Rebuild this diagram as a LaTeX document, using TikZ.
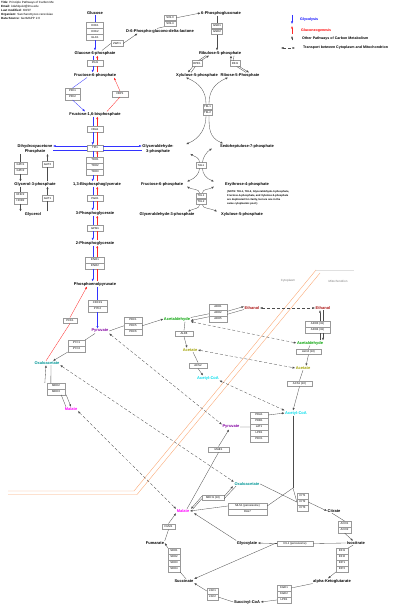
\documentclass[tikz,border=0pt]{standalone}
\usepackage{fontspec}
\setmainfont{Liberation Sans}
\usetikzlibrary{arrows.meta,positioning,calc}

\newcommand{\metfont}{\fontsize{4}{4.6}\selectfont\bfseries}
\newcommand{\genefont}{\fontsize{2.8}{3.1}\selectfont}
\newcommand{\hdrfont}{\fontsize{3}{4}\selectfont}

\definecolor{pyrcol}{RGB}{130,0,160}
\definecolor{oaacol}{RGB}{0,150,150}
\definecolor{malcol}{RGB}{255,0,255}
\definecolor{acaldcol}{RGB}{0,160,0}
\definecolor{etohcol}{RGB}{170,20,20}
\definecolor{accol}{RGB}{160,160,0}
\definecolor{accoacol}{RGB}{0,220,235}
\definecolor{membcol}{RGB}{250,170,120}
\definecolor{compcol}{RGB}{120,120,120}

\begin{document}
\begin{tikzpicture}[
    x=1pt, y=-1pt,
    >={Latex[length=2.5pt,width=2.1pt]},
    % node styles
    met/.style     = {font=\metfont, inner sep=0.5pt, align=center},
    gene/.style    = {draw=black!40, fill=white, line width=0.3pt, font=\genefont,
                      minimum width=16pt, minimum height=5.7pt, inner sep=0pt},
    hdr/.style     = {font=\hdrfont, align=left, inner sep=0pt},
    legtxt/.style  = {font=\fontsize{3.6}{4}\selectfont\bfseries, inner sep=0pt, anchor=west},
    note/.style    = {font=\fontsize{2.6}{4}\selectfont\bfseries, align=left, inner sep=0pt},
    comp/.style    = {font=\fontsize{3}{3.5}\selectfont, text=compcol, inner sep=0pt},
    % edges
    glyarr/.style  = {blue!80, line width=0.32pt},
    gngarr/.style  = {red!85, line width=0.32pt},
    oth/.style     = {black!70, line width=0.32pt},
    trans/.style   = {black!70, line width=0.32pt, densely dashed, <->},
    memb/.style    = {membcol, line width=0.4pt}
  ]
\useasboundingbox (0,0) rectangle (415,609);

% ============================================================
% Header and legend
% ============================================================
\node[hdr, anchor=north west] (hdr) at (1,1)
  {\textbf{Title:} Principle Pathways of Carbon Me\\
   \textbf{Email:} kdahlquist@lmu.edu\\
   \textbf{Last modified:} 3/8/07\\
   \textbf{Organism:} Saccharomyces cerevisiae\\
   \textbf{Data Source:} GenMAPP 2.0};

\coordinate (lg1a) at (292,15);   \coordinate (lg1b) at (292,24);
\coordinate (lg2a) at (292,34);   \coordinate (lg2b) at (292,26);
\coordinate (lg3a) at (292,40.5); \coordinate (lg3b) at (292,36);
\coordinate (lg4a) at (281,48);   \coordinate (lg4b) at (295,48);
\draw[glyarr,->] (lg1a) -- (lg1b);
\draw[gngarr,->] (lg2a) -- (lg2b);
\draw[oth,->] (lg3a) -- (lg3b);
\draw[trans] (lg4a) -- (lg4b);
\node[legtxt, text=blue] (lgt1) at (300,20) {Glycolysis};
\node[legtxt, text=red] (lgt2) at (301,31) {Gluconeogenesis};
\node[legtxt] (lgt3) at (302,39) {Other Pathways of Carbon Metabolism};
\node[legtxt] (lgt4) at (303,48) {Transport between Cytoplasm and Mitochondrion};

% ============================================================
% Compartments
% ============================================================
\draw[black!12, line width=0.3pt] (316,270) -- (354,270);
\draw[memb] (316,270) -- (134,491) -- (8,491);
\draw[memb] (320,273) -- (137,494.5) -- (8,494.5);
\node[comp] (cyto) at (288,281) {Cytoplasm};
\node[comp] (mito) at (338,281) {Mitochondrion};

% ============================================================
% Glycolysis / gluconeogenesis (cytoplasm)
% ============================================================
\node[met] (glc) at (95,13) {Glucose};
\node[gene, minimum width=17pt] (hxk1) at (95,25.5) {HXK1};
\node[gene, minimum width=17pt, below=0pt of hxk1] (hxk2) {HXK2};
\node[gene, minimum width=17pt, below=0pt of hxk2] (glk1) {GLK1};
\node[met] (g6p) at (95,53) {Glucose-6-phosphate};
\node[gene] (pgi1) at (95,63) {PGI1};
\node[met] (f6p) at (95,75) {Fructose-6-phosphate};
\node[gene, minimum width=15pt] (pfk1) at (72.5,91) {PFK1};
\node[gene, minimum width=15pt, below=0pt of pfk1] (pfk2) {PFK2};
\node[gene] (fbp1) at (120,94) {FBP1};
\node[met] (fbp) at (95,114) {Fructose-1,6-bisphosphate};
\node[gene] (fba1) at (95,129.5) {FBA1};
\node[gene] (tpi1) at (95,148) {TPI1};
\node[met] (dhap) at (35,149) {Dihydroxyacetone\\Phosphate};
\node[met] (gap) at (158,149) {Glyceraldehyde-\\3-phosphate};
\node[gene, minimum width=17pt] (tdh1) at (95,160) {TDH1};
\node[gene, minimum width=17pt, below=0pt of tdh1] (tdh2) {TDH2};
\node[gene, minimum width=17pt, below=0pt of tdh2] (tdh3) {TDH3};
\node[met] (bpg) at (97,184) {1,3-Bisphosphoglycerate};
\node[gene] (pgk1) at (95,198.5) {PGK1};
\node[met] (pg3) at (95,213) {3-Phosphoglycerate};
\node[gene] (gpm1) at (95,228.5) {GPM1};
\node[met] (pg2) at (95,243) {2-Phosphoglycerate};
\node[gene, minimum width=19pt] (eno1) at (95,260) {ENO1};
\node[gene, minimum width=19pt, below=0pt of eno1] (eno2) {ENO2};
\node[met] (pep) at (95,284) {Phosphoenolpyruvate};
\node[gene, minimum width=19pt] (cdc19) at (97.5,303) {CDC19};
\node[gene, minimum width=19pt, below=0pt of cdc19] (pyk2) {PYK2};
\node[met, text=pyrcol] (pyr) at (100,331) {Pyruvate};

\draw[glyarr] (glc.south) -- (hxk1.north);
\draw[glyarr,->] (glk1.south) -- (glk1.south |- g6p.north);
\draw[glyarr] ([xshift=-2.3pt]pgi1.north |- g6p.south) -- ([xshift=-2.3pt]pgi1.north);
\draw[glyarr,->] ([xshift=-2.3pt]pgi1.south) -- ([xshift=-2.3pt]pgi1.south |- f6p.north);
\draw[gngarr] ([xshift=2.3pt]pgi1.south |- f6p.north) -- ([xshift=2.3pt]pgi1.south);
\draw[gngarr,->] ([xshift=2.3pt]pgi1.north) -- ([xshift=2.3pt]pgi1.north |- g6p.south);
\draw[glyarr] ([xshift=-8pt]f6p.south) -- (pfk1.north);
\draw[glyarr,->] (pfk2.south) -- ([xshift=-10pt]fbp.north);
\draw[gngarr] ([xshift=12pt]fbp.north) -- (fbp1.south);
\draw[gngarr,->] (fbp1.north) -- ([xshift=19pt]f6p.south);
\draw[glyarr] ([xshift=-2.3pt]fba1.north |- fbp.south) -- ([xshift=-2.3pt]fba1.north);
\draw[glyarr,->] ([xshift=-2.3pt]fba1.south) -- ([xshift=-2.3pt]tpi1.north);
\draw[gngarr] ([xshift=2.3pt]tpi1.north) -- ([xshift=2.3pt]fba1.south);
\draw[gngarr,->] ([xshift=2.3pt]fba1.north) -- ([xshift=2.3pt]fba1.north |- fbp.south);
\draw[glyarr,->] ([yshift=2pt]tpi1.west) -- ([yshift=2pt]tpi1.west -| dhap.east);
\draw[glyarr,->] ([yshift=2pt]tpi1.east) -- ([yshift=2pt]tpi1.east -| gap.west);
\draw[glyarr] ([yshift=-2pt]tpi1.west) -- ([yshift=-2pt]tpi1.west -| dhap.east);
\draw[glyarr] ([yshift=-2pt]tpi1.east) -- ([yshift=-2pt]tpi1.east -| gap.west);
\draw[glyarr] ([xshift=-2.3pt]tpi1.south) -- ([xshift=-2.3pt]tdh1.north);
\draw[glyarr,->] ([xshift=-2.3pt]tdh3.south) -- ([xshift=-2.3pt]tdh3.south |- bpg.north);
\draw[gngarr] ([xshift=2.3pt]tdh3.south |- bpg.north) -- ([xshift=2.3pt]tdh3.south);
\draw[gngarr,->] ([xshift=2.3pt]tdh1.north) -- ([xshift=2.3pt]tpi1.south);
\draw[glyarr] ([xshift=-2.3pt]pgk1.north |- bpg.south) -- ([xshift=-2.3pt]pgk1.north);
\draw[glyarr,->] ([xshift=-2.3pt]pgk1.south) -- ([xshift=-2.3pt]pgk1.south |- pg3.north);
\draw[gngarr] ([xshift=2.3pt]pgk1.south |- pg3.north) -- ([xshift=2.3pt]pgk1.south);
\draw[gngarr,->] ([xshift=2.3pt]pgk1.north) -- ([xshift=2.3pt]pgk1.north |- bpg.south);
\draw[glyarr] ([xshift=-2.3pt]gpm1.north |- pg3.south) -- ([xshift=-2.3pt]gpm1.north);
\draw[glyarr,->] ([xshift=-2.3pt]gpm1.south) -- ([xshift=-2.3pt]gpm1.south |- pg2.north);
\draw[gngarr] ([xshift=2.3pt]gpm1.south |- pg2.north) -- ([xshift=2.3pt]gpm1.south);
\draw[gngarr,->] ([xshift=2.3pt]gpm1.north) -- ([xshift=2.3pt]gpm1.north |- pg3.south);
\draw[glyarr] ([xshift=-2.3pt]eno1.north |- pg2.south) -- ([xshift=-2.3pt]eno1.north);
\draw[glyarr,->] ([xshift=-2.3pt]eno2.south) -- ([xshift=-2.3pt]eno2.south |- pep.north);
\draw[gngarr] ([xshift=2.3pt]eno2.south |- pep.north) -- ([xshift=2.3pt]eno2.south);
\draw[gngarr,->] ([xshift=2.3pt]eno1.north) -- ([xshift=2.3pt]eno1.north |- pg2.south);
\draw[glyarr] (cdc19.north |- pep.south) -- (cdc19.north);
\draw[glyarr,->] (pyk2.south) -- (pyk2.south |- pyr.north);

% ============================================================
% Glycerol branch
% ============================================================
\node[gene, minimum width=13pt] (gpd1) at (20.5,165) {GPD1};
\node[gene, minimum width=13pt, below=0pt of gpd1] (gpd2) {GPD2};
\node[gene, minimum width=11pt] (gut2) at (47.5,164.5) {GUT2};
\node[met] (gro3p) at (35,184) {Glycerol-3-phosphate};
\node[gene, minimum width=13pt] (rhr2) at (20.5,195) {RHR2};
\node[gene, minimum width=13pt, below=0pt of rhr2] (hor2) {HOR2};
\node[gene, minimum width=11pt] (gut1) at (47.5,198.5) {GUT1};
\node[met] (glol) at (33,214) {Glycerol};

\draw[oth] (gpd1.north |- dhap.south) -- (gpd1.north);
\draw[oth,->] (gpd2.south) -- (gpd2.south |- gro3p.north);
\draw[oth] (gut2.south |- gro3p.north) -- (gut2.south);
\draw[oth,->] (gut2.north) -- (gut2.north |- dhap.south);
\draw[oth] (rhr2.north |- gro3p.south) -- (rhr2.north);
\draw[oth,->] (hor2.south) -- (hor2.south |- glol.north);
\draw[oth] (gut1.south |- glol.north) -- (gut1.south);
\draw[oth,->] (gut1.north) -- (gut1.north |- gro3p.south);

% ============================================================
% Pentose phosphate pathway
% ============================================================
\node[gene, minimum width=12pt] (zwf1) at (117,43.5) {ZWF1};
\node[met] (pgl) at (160,31) {D-6-Phospho-glucono-delta-lactone};
\node[gene, minimum width=12pt] (sol3) at (170,17.8) {SOL3};
\node[gene, minimum width=12pt, below=0pt of sol3] (sol4) {SOL4};
\node[met] (pg6) at (221,13) {6-Phosphogluconate};
\node[gene, minimum width=11pt] (gnd1) at (217,25.8) {GND1};
\node[gene, minimum width=11pt, below=0pt of gnd1] (gnd2) {GND2};
\node[met] (ru5p) at (220,53) {Ribulose-5-phosphate};
\node[gene, minimum width=10pt] (rpe1) at (197,63.5) {RPE1};
\node[gene, minimum width=10pt] (rki1) at (235,63.5) {RKI1};
\node[met] (xu5p) at (197,75) {Xylulose-5-phosphate};
\node[met] (r5p) at (240,75) {Ribose-5-Phosphate};
\node[gene, minimum width=9pt] (tkl1) at (207.5,106.8) {TKL1};
\node[gene, minimum width=9pt, below=0pt of tkl1] (tkl2) {TKL2};
\node[met] (s7p) at (247,146) {Sedoheptulose-7-phosphate};
\node[gene, minimum width=10pt] (tal1) at (201,165.5) {TAL1};
\node[met] (f6pb) at (162,184) {Fructose-6-phosphate};
\node[met] (e4p) at (247,184) {Erythrose-4-phosphate};
\node[gene, minimum width=10pt] (tkl1b) at (201,195.8) {TKL1};
\node[gene, minimum width=10pt, below=0pt of tkl1b] (tkl2b) {TKL2};
\node[met] (gapb) at (167,214) {Glyceraldehyde-3-phosphate};
\node[met] (xu5pb) at (242,214) {Xylulose-5-phosphate};
\node[note, anchor=north west] (note) at (227,190.5)
  {(NOTE: TKL1, TKL2, Glyceraldehyde-3-phosphate,\\
   Fructose-6-phosphate, and Xylulose-5-phosphate\\
   are duplicated for clarity, but are one in the\\
   same cytoplasmic pool.)};

\draw[oth] ([xshift=7pt]g6p.north) -- (zwf1.west);
\draw[oth,->] (zwf1.east) -- ([xshift=12pt]pgl.south west);
\draw[oth] ([xshift=-3pt]pgl.north) -- (sol4.south west);
\draw[oth,->] (sol3.east) -- (pg6.west);
\draw[oth] (gnd1.north |- pg6.south) -- (gnd1.north);
\draw[oth,->] (gnd2.south) -- (gnd2.south |- ru5p.north);
\draw[oth,->] ([xshift=-1pt]rpe1.north east) -- ([xshift=-11pt]ru5p.south);
\draw[oth] ([xshift=-14pt]ru5p.south) -- ([xshift=-3.5pt]rpe1.north east);
\draw[oth,->] ([xshift=1pt]rpe1.south west) -- ([xshift=-9pt]xu5p.north);
\draw[oth] ([xshift=-6pt]xu5p.north) -- ([xshift=3.5pt]rpe1.south west);
\draw[oth,->] ([xshift=1pt]rki1.north west) -- ([xshift=11pt]ru5p.south);
\draw[oth] ([xshift=14pt]ru5p.south) -- ([xshift=3.5pt]rki1.north west);
\draw[oth,->] ([xshift=-1pt]rki1.south east) -- ([xshift=9pt]r5p.north);
\draw[oth] ([xshift=6pt]r5p.north) -- ([xshift=-3.5pt]rki1.south east);
% transketolase 1
\draw[oth,<-] ([xshift=-11pt]xu5p.south) .. controls +(14,6) and +(0,-12) .. ([xshift=-1.5pt]tkl1.north);
\draw[oth,<-] ([xshift=-12pt]r5p.south) .. controls +(-14,6) and +(0,-12) .. ([xshift=1.5pt]tkl1.north);
\draw[oth,->] ([xshift=-1.5pt]tkl2.south) .. controls +(0,12) and +(14,-6) .. ([xshift=12pt]gap.north east);
\draw[oth,->] ([xshift=1.5pt]tkl2.south) .. controls +(0,12) and +(-14,-6) .. ([xshift=-24pt]s7p.north);
% transaldolase
\draw[oth,<-] ([xshift=16pt]gap.south east) .. controls +(5,3) and +(0,-5) .. ([xshift=-1.5pt]tal1.north);
\draw[oth,<-] ([xshift=-35pt]s7p.south) .. controls +(-5,3) and +(0,-5) .. ([xshift=1.5pt]tal1.north);
\draw[oth,->] ([xshift=-1.5pt]tal1.south) .. controls +(0,5) and +(8,-3) .. ([xshift=25pt]f6pb.north);
\draw[oth,->] ([xshift=1.5pt]tal1.south) .. controls +(0,5) and +(-8,-3) .. ([xshift=-33pt]e4p.north);
% transketolase 2
\draw[oth,<-] ([xshift=25pt]f6pb.south) .. controls +(5,3) and +(0,-4) .. ([xshift=-1.5pt]tkl1b.north);
\draw[oth,<-] ([xshift=-33pt]e4p.south) .. controls +(-5,3) and +(0,-4) .. ([xshift=1.5pt]tkl1b.north);
\draw[oth,->] ([xshift=-1.5pt]tkl2b.south) .. controls +(0,4) and +(6,-3) .. ([xshift=21pt]gapb.north);
\draw[oth,->] ([xshift=1.5pt]tkl2b.south) .. controls +(0,4) and +(-6,-3) .. ([xshift=-25pt]xu5pb.north);

% ============================================================
% Pyruvate branch points (cytoplasm)
% ============================================================
\node[gene, minimum width=14pt] (pck1) at (70,320.5) {PCK1};
\node[gene, minimum width=18pt] (pdc1) at (133,319.8) {PDC1};
\node[gene, minimum width=18pt, below=0pt of pdc1] (pdc5) {PDC5};
\node[gene, minimum width=18pt, below=0pt of pdc5] (pdc6) {PDC6};
\node[gene, minimum width=17pt] (pyc1) at (76.5,343) {PYC1};
\node[gene, minimum width=17pt, below=0pt of pyc1] (pyc2) {PYC2};
\node[met, text=oaacol] (oaa) at (47,363) {Oxaloacetate};
\node[gene, minimum width=18pt] (mdh2) at (56,385.8) {MDH2};
\node[gene, minimum width=18pt, below=0pt of mdh2] (mdh3) {MDH3};
\node[met, text=malcol] (mal) at (71,409) {Malate};
\node[met, text=etohcol] (etoh) at (252,308) {Ethanol};
\node[gene, minimum width=18pt] (adh1) at (218,306.8) {ADH1};
\node[gene, minimum width=18pt, below=0pt of adh1] (adh2) {ADH2};
\node[gene, minimum width=18pt, below=0pt of adh2] (adh5) {ADH5};
\node[met, text=acaldcol] (acald) at (177,319) {Acetaldehyde};
\node[gene, minimum width=18pt] (ald6) at (184,333.5) {ALD6};
\node[met, text=accol] (ac) at (190,350) {Acetate};
\node[gene, minimum width=18pt] (acs2) at (198,365.5) {ACS2};
\node[met, text=accoacol] (accoa) at (208,378) {Acetyl-CoA};

\draw[gngarr] ([xshift=-1pt]oaa.north) -- (pck1.south);
\draw[gngarr,->] (pck1.north) -- ([xshift=-8pt]pep.south);
\draw[oth] (pyr.east) -- (pdc5.west);
\draw[oth,->] (pdc5.east) -- (acald.west);
\draw[oth] ([xshift=-5pt]pyr.south) -- (pyc1.north east);
\draw[oth,->] (pyc2.south west) -- ([xshift=6pt]oaa.north);
\draw[oth,->] ([xshift=-2pt]mdh2.north west) -- ([xshift=-1pt]oaa.south);
\draw[oth] ([xshift=4pt]oaa.south) -- ([xshift=4pt]mdh2.north west);
\draw[oth] ([xshift=-4pt]mdh3.south east) -- ([xshift=-5pt]mal.north);
\draw[oth,->] ([xshift=1pt]mdh3.south east) -- ([xshift=0pt]mal.north);
\draw[oth] ([yshift=1.5pt]acald.east) -- ([yshift=-1pt]adh2.west);
\draw[oth,->] ([yshift=1.5pt]adh2.east) -- ([yshift=1.5pt]etoh.west);
\draw[oth] ([yshift=-1.5pt]etoh.west) -- ([yshift=-1.5pt]adh2.east);
\draw[oth,->] ([yshift=-4pt]adh2.west) -- ([yshift=-1.5pt]acald.east);
\draw[oth] ([xshift=8pt]acald.south) -- (ald6.north);
\draw[oth,->] (ald6.south) -- ([xshift=-3pt]ac.north);
\draw[oth] ([xshift=3pt]ac.south) -- (acs2.north);
\draw[oth,->] (acs2.south) -- ([xshift=-5pt]accoa.north);

% ============================================================
% Mitochondrion
% ============================================================
\node[met, text=etohcol] (etohm) at (323,308) {Ethanol};
\node[gene, minimum width=25pt] (adh3) at (317.5,323.8) {ADH3 (mt)};
\node[gene, minimum width=25pt, below=0pt of adh3] (adh4) {ADH4 (mt)};
\node[met, text=acaldcol] (acaldm) at (310,343) {Acetaldehyde};
\node[gene, minimum width=25pt] (ald4) at (308.5,351.7) {ALD4 (mt)};
\node[met, text=accol] (acm) at (303,368) {Acetate};
\node[gene, minimum width=25pt] (acs1) at (299.5,383.5) {ACS1 (mt)};
\node[met, text=accoacol] (accoam) at (296,413) {Acetyl-CoA};
\node[met, text=pyrcol] (pyrm) at (231,427) {Pyruvate};
\node[gene, minimum width=18pt] (pda1) at (259,415) {PDA1};
\node[gene, minimum width=18pt, below=0pt of pda1] (pdb1) {PDB1};
\node[gene, minimum width=18pt, below=0pt of pdb1] (lat1) {LAT1};
\node[gene, minimum width=18pt, below=0pt of lat1] (lpd1) {LPD1};
\node[gene, minimum width=18pt, below=0pt of lpd1] (pdx1) {PDX1};
\node[gene, minimum width=21pt] (mae1) at (218.5,449.5) {MAE1};
\node[met, text=oaacol] (oaam) at (247,484) {Oxaloacetate};
\node[met, text=malcol] (malm) at (183,511) {Malate};
\node[gene, minimum width=22pt] (mdh1) at (213,497.5) {MDH1 (mt)};
\node[gene, minimum width=39pt] (mls1) at (247.5,506) {MLS1 (peroxisome)};
\node[gene, minimum width=39pt, below=0pt of mls1] (dal7) {DAL7};
\node[gene, minimum width=11pt] (cit1) at (302.5,496) {CIT1};
\node[gene, minimum width=11pt, below=0pt of cit1] (cit2) {CIT2};
\node[gene, minimum width=11pt, below=0pt of cit2] (cit3) {CIT3};
\node[met] (cit) at (334,511) {Citrate};
\node[gene, minimum width=13pt] (aco1) at (344.5,524) {ACO1};
\node[gene, minimum width=13pt, below=0pt of aco1] (aco2) {ACO2};
\node[met] (icit) at (356,543) {Isocitrate};
\node[gene, minimum width=36pt] (icl1) at (295,543.5) {ICL1 (peroxisome)};
\node[met] (glx) at (247,543) {Glyoxylate};
\node[gene, minimum width=12pt] (idh1) at (342,551) {IDH1};
\node[gene, minimum width=12pt, below=0pt of idh1] (idh2) {IDH2};
\node[gene, minimum width=12pt, below=0pt of idh2] (idp1) {IDP1};
\node[gene, minimum width=12pt, below=0pt of idp1] (idp2) {IDP2};
\node[met] (akg) at (332,581) {alpha-Ketoglutarate};
\node[gene, minimum width=14pt] (kgd1) at (284,588) {KGD1};
\node[gene, minimum width=14pt, below=0pt of kgd1] (kgd2) {KGD2};
\node[gene, minimum width=14pt, below=0pt of kgd2] (lpd1b) {LPD1};
\node[met] (sucoa) at (247,602) {Succinyl-CoA};
\node[gene, minimum width=11pt] (lsc1) at (212.5,591) {LSC1};
\node[gene, minimum width=11pt, below=0pt of lsc1] (lsc2) {LSC2};
\node[met] (suc) at (184,581) {Succinate};
\node[gene, minimum width=12pt] (sdh1) at (174,551) {SDH1};
\node[gene, minimum width=12pt, below=0pt of sdh1] (sdh2) {SDH2};
\node[gene, minimum width=12pt, below=0pt of sdh2] (sdh3) {SDH3};
\node[gene, minimum width=12pt, below=0pt of sdh3] (sdh4) {SDH4};
\node[met] (fum) at (155,543) {Fumarate};
\node[gene, minimum width=13pt] (fum1) at (168.5,526.5) {FUM1};
\coordinate (accj) at (293,488);
\coordinate (iclj) at (275,543.5);

\draw[oth,->] ([xshift=2.5pt]adh3.north) -- ([xshift=2.5pt]adh3.north |- etohm.south);
\draw[oth] ([xshift=5.5pt]adh3.north |- etohm.south) -- ([xshift=5.5pt]adh3.north);
\draw[oth] ([xshift=2.5pt]adh4.south |- acaldm.north) -- ([xshift=2.5pt]adh4.south);
\draw[oth,->] ([xshift=5.5pt]adh4.south) -- ([xshift=5.5pt]adh4.south |- acaldm.north);
\draw[oth] (acaldm.south) -- (ald4.north);
\draw[oth,->] (ald4.south) -- ([xshift=3pt]acm.north);
\draw[oth] (acm.south) -- (acs1.north);
\draw[oth,->] (acs1.south) -- ([xshift=-3pt]accoam.north);
\draw[oth] (pyrm.east) -- (lat1.west);
\draw[oth,->] (pda1.east) -- (accoam.west);
\draw[oth] ([xshift=4pt]malm.north) -- (mae1.south);
\draw[oth,->] (mae1.north) -- ([xshift=-2pt]pyrm.south);
\draw[oth,->] ([yshift=1.2pt]mdh1.west) -- ([xshift=8pt]malm.north);
\draw[oth] ([xshift=10pt]malm.north) -- ([yshift=-1.2pt]mdh1.west);
\draw[oth,->] ([yshift=1.2pt]mdh1.east) -- ([xshift=-14pt]oaam.south);
\draw[oth] ([xshift=-11pt]oaam.south) -- ([yshift=-1.2pt]mdh1.east);
\draw[oth] (accoam.south -| accj) -- (accj);
\draw[oth] (accj) -- (cit2.west);
\draw[oth] (oaam.east) -- (cit2.west);
\draw[oth,->] (cit2.east) -- (cit.west);
\draw[oth] (accj) -- (mls1.east);
\draw[oth,->] (mls1.west) -- (malm.east);
\draw[oth,->] (glx.north west) -- ([xshift=4pt]malm.south east);
\draw[oth] ([xshift=-2pt]cit.south) -- (aco1.north);
\draw[oth,->] (aco2.south) -- ([xshift=-3pt]icit.north);
\draw[oth] (icit.west) -- (icl1.east);
\draw[oth] (icl1.west) -- (iclj);
\draw[oth,->] (iclj) -- (glx.east);
\draw[oth,->] (iclj) -- (suc.north east);
\draw[oth] ([xshift=-3pt]icit.south) -- (idh1.north east);
\draw[oth,->] (idp2.south west) -- ([xshift=-4pt]akg.north);
\draw[oth] (akg.south west) -- (kgd1.east);
\draw[oth,->] (lpd1b.west) -- (sucoa.east);
\draw[oth] (sucoa.west) -- (lsc2.east);
\draw[oth,->] (lsc1.west) -- (suc.south east);
\draw[oth] ([xshift=2pt]suc.north) -- (sdh4.south east);
\draw[oth,->] (sdh1.north west) -- (fum.east);
\draw[oth] (fum.north east) -- (fum1.south);
\draw[oth,->] (fum1.north) -- (malm.south west);

% ============================================================
% Transport between cytoplasm and mitochondrion
% ============================================================
\draw[trans] (etoh.east) -- (etohm.west);
\draw[trans] (acald.south east) -- (acaldm.west);
\draw[trans] (ac.east) -- (acm.west);
\draw[trans] (accoa.south east) -- (accoam.north west);
\draw[trans] (pyr.south east) -- (pyrm.north west);
\draw[trans] (oaa.south east) -- (oaam.north west);
\draw[trans] (mal.south east) -- (malm.north west);

\end{tikzpicture}
\end{document}
